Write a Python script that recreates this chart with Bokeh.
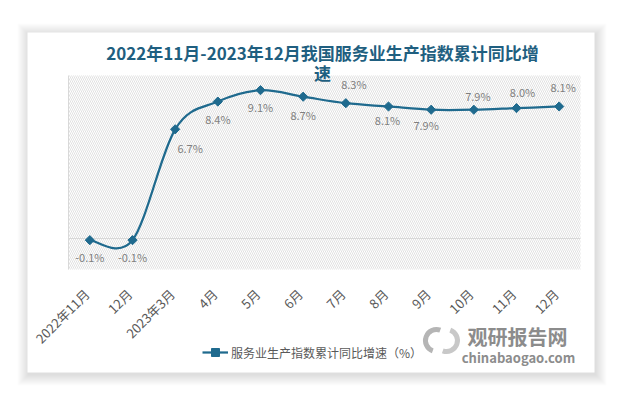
import math
from bokeh.plotting import figure
from bokeh.models import (ColumnDataSource, Range1d, BoxAnnotation,
                          Label, LabelSet, Legend, LegendItem)
from bokeh.core.properties import value
from bokeh.embed import file_html
from bokeh.resources import INLINE

# ---- data ----
categories = ["2022年11月", "12月", "2023年3月", "4月", "5月", "6月",
              "7月", "8月", "9月", "10月", "11月", "12月"]
values = [-0.1, -0.1, 6.7, 8.4, 9.1, 8.7, 8.3, 8.1, 7.9, 7.9, 8.0, 8.1]
value_labels = ["-0.1%", "-0.1%", "6.7%", "8.4%", "9.1%", "8.7%",
                "8.3%", "8.1%", "7.9%", "7.9%", "8.0%", "8.1%"]
series_name = "服务业生产指数累计同比增速（%）"
title_line1 = "2022年11月-2023年12月我国服务业生产指数累计同比增"
title_line2 = "速"
y_min, y_max = -1.9, 10.0

# label offsets (style, in pixels)
label_dx = [0, 0, 15, 0, 0, 0, 8, -1, -5, 4, 6, 4]
label_dy = [-17, -17, -19, -17, -17, -18, 19, -14, -15, 14, 16, 19]

FONT = "Noto Sans CJK SC"
LINE_COLOR = "#1F6A8E"

# ---- layout (canvas pixels) ----
W, H = 623, 403
PL, PR, PT, PB = 68, 580, 75, 269          # plot area
CL, CR, CT, CB = 27, 594, 32, 372          # white card

n = len(values)
ppx = (PR - PL) / n                         # px per category
ppy = (PB - PT) / (y_max - y_min)           # px per unit
x_start = -0.5 - PL / ppx
x_end = (n - 0.5) + (W - PR) / ppx
y_top = y_max + PT / ppy
y_bot = y_min - (H - PB) / ppy

p = figure(width=W, height=H, output_backend="svg", toolbar_location=None,
           x_range=Range1d(x_start, x_end), y_range=Range1d(y_bot, y_top),
           x_axis_type=None, y_axis_type=None, min_border=0)
p.outline_line_color = None
p.background_fill_color = "white"
p.border_fill_color = "white"
p.xgrid.visible = False
p.ygrid.visible = False


def sy(cy):
    return H - cy


def dx(cx):
    return x_start + cx / ppx


def dy(cy):
    return y_top - cy / ppy


def box(l, r, t, b, **kw):
    return BoxAnnotation(left=l, right=r, top=sy(t), bottom=sy(b),
                         left_units="screen", right_units="screen",
                         top_units="screen", bottom_units="screen", **kw)


# card shadow + card
for k in range(11, 0, -1):
    p.add_layout(box(CL - k + 1, CR + k + 1, CT - k + 2, CB + k + 2,
                     fill_color="#000000", fill_alpha=0.011, line_color=None, level="image"))
p.add_layout(box(CL, CR, CT, CB, fill_color="white", fill_alpha=1, line_color=None, level="image"))

# hatched plot area
p.add_layout(BoxAnnotation(left=-0.5, right=n - 0.5, bottom=y_min, top=y_max,
                           fill_color=None, fill_alpha=0, line_color=None,
                           hatch_pattern="left_diagonal_line", hatch_color="#d4d4d4",
                           hatch_scale=4, hatch_weight=0.7, hatch_alpha=1, level="underlay"))
# left axis line
p.segment(x0=[-0.5], x1=[-0.5], y0=[y_min], y1=[y_max], line_color="#d9d9d9", line_width=1)
# zero line
p.segment(x0=[-0.5], x1=[n - 0.5], y0=[0], y1=[0], line_color="#d9d9d9", line_width=1)

# category labels (rotated)
xs = list(range(n))
cat_src = ColumnDataSource(dict(x=xs, y=[y_min] * n, t=categories))
p.add_layout(LabelSet(x="x", y="y", text="t", source=cat_src, x_offset=-3, y_offset=-22,
                      angle=math.pi / 4, text_align="right", text_baseline="middle",
                      text_font=value(FONT), text_font_size="13px", text_color="#595959"))

# smooth line (Catmull-Rom -> cubic Bezier, as Excel smoothing)
pts = list(zip(xs, values))


def tangent(i):
    a = pts[max(i - 1, 0)]
    b = pts[min(i + 1, n - 1)]
    return ((b[0] - a[0]) / 2.0, (b[1] - a[1]) / 2.0)


bz = dict(x0=[], y0=[], x1=[], y1=[], cx0=[], cy0=[], cx1=[], cy1=[])
for i in range(n - 1):
    t0, t1 = tangent(i), tangent(i + 1)
    bz["x0"].append(pts[i][0]); bz["y0"].append(pts[i][1])
    bz["x1"].append(pts[i + 1][0]); bz["y1"].append(pts[i + 1][1])
    bz["cx0"].append(pts[i][0] + t0[0] / 3); bz["cy0"].append(pts[i][1] + t0[1] / 3)
    bz["cx1"].append(pts[i + 1][0] - t1[0] / 3); bz["cy1"].append(pts[i + 1][1] - t1[1] / 3)

r_line = p.bezier(x0="x0", y0="y0", x1="x1", y1="y1", cx0="cx0", cy0="cy0", cx1="cx1", cy1="cy1",
                  source=ColumnDataSource(bz), line_color=LINE_COLOR, line_width=2.25)

src = ColumnDataSource(dict(x=xs, y=values, lab=value_labels, dx=label_dx, dy=label_dy))
r_pts = p.scatter(x="x", y="y", source=src, marker="square", size=6.5, angle=math.pi / 4,
                  fill_color=LINE_COLOR, line_color=LINE_COLOR)

p.add_layout(LabelSet(x="x", y="y", text="lab", source=src, x_offset="dx", y_offset="dy",
                      text_align="center", text_baseline="middle", text_font=value(FONT),
                      text_font_size="11px", text_color="#7f7f7f"))

# title
for txt, cy in ((title_line1, 52), (title_line2, 72)):
    p.add_layout(Label(x=(PL + PR) / 2 - 2, y=sy(cy), x_units="screen", y_units="screen", text=txt,
                       text_align="center", text_baseline="middle", text_font=FONT,
                       text_font_style="bold", text_font_size="17px", text_color="#1F5F80"))

# legend
legend = Legend(items=[LegendItem(label=series_name, renderers=[r_line, r_pts])],
                location=(202, sy(362)), orientation="horizontal",
                border_line_color=None, background_fill_alpha=0, padding=0, margin=0,
                glyph_width=26, glyph_height=20, label_standoff=3,
                label_text_font=FONT, label_text_font_size="12px", label_text_color="#595959")
p.add_layout(legend)

# watermark (logo swirl + text)
p.arc(x=[dx(436), dx(446)], y=[dy(340), dy(340)], radius=11, radius_units="screen",
      start_angle=[math.radians(70), math.radians(250)], end_angle=[math.radians(250), math.radians(430)],
      line_color=["#b5b5b5", "#c8c8c8"], line_width=5)
p.add_layout(Label(x=517, y=sy(336), x_units="screen", y_units="screen", text="观研报告网",
                   text_align="center", text_baseline="middle", text_font=FONT, text_font_style="bold",
                   text_font_size="20px", text_color="#8c8c8c"))
p.add_layout(Label(x=518, y=sy(357), x_units="screen", y_units="screen", text="chinabaogao.com",
                   text_align="center", text_baseline="middle", text_font=FONT, text_font_style="bold",
                   text_font_size="13px", text_color="#8c8c8c"))

open("out.html", "w").write(file_html(p, INLINE))
